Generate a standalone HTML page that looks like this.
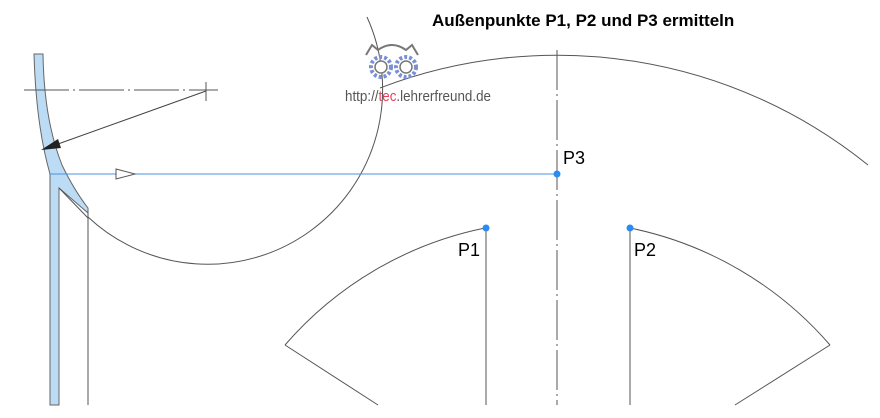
<!DOCTYPE html>
<html><head><meta charset="utf-8"><style>
html,body{margin:0;padding:0;background:#fff;}
svg{display:block;}
</style></head><body>
<svg width="880" height="418" viewBox="0 0 880 418" xmlns="http://www.w3.org/2000/svg">
<rect width="880" height="418" fill="#fff"/>
<text x="432" y="26" font-family="Liberation Sans, sans-serif" font-weight="bold" font-size="17" fill="#000">Außenpunkte P1, P2 und P3 ermitteln</text>

<!-- big circle -->
<path d="M88,217 A175,175 0 0 0 367,17" fill="none" stroke="#555" stroke-width="1"/>
<!-- top arc -->
<path d="M380,88 A495,495 0 0 1 868,165" fill="none" stroke="#555" stroke-width="1"/>
<!-- vertical center line -->
<line x1="557" y1="50" x2="557" y2="405" stroke="#555" stroke-width="1" stroke-dasharray="40,4,2,4"/>
<!-- lower arc -->
<path d="M285,345 A359,359 0 0 1 485,228" fill="none" stroke="#555" stroke-width="1"/>
<path d="M630,228 A359,359 0 0 1 830,345" fill="none" stroke="#555" stroke-width="1"/>
<line x1="285" y1="345" x2="378" y2="405" stroke="#555"/>
<line x1="830" y1="345" x2="735" y2="405" stroke="#555"/>
<line x1="486" y1="228" x2="486" y2="405" stroke="#555"/>
<line x1="630" y1="228" x2="630" y2="405" stroke="#555"/>

<!-- blue profile -->
<path d="M34,54 L43,54 Q44,120 62,165 Q74,190 88,208 L88,213 L59,188 L59,405 L50,405 L50,174 Q36,125 34,54 Z" fill="#bcdcf6" stroke="#666" stroke-width="1"/>
<line x1="59" y1="188" x2="88" y2="218" stroke="#555"/>
<line x1="88" y1="210" x2="88" y2="405" stroke="#555"/>

<!-- center line and dimension -->
<line x1="24" y1="90" x2="218" y2="90" stroke="#555" stroke-dasharray="45,4,2,4"/>
<line x1="206" y1="82" x2="206" y2="101" stroke="#555"/>
<line x1="206" y1="91" x2="58" y2="144" stroke="#444"/>
<polygon points="41,150 58,139 61,148" fill="#222"/>

<!-- blue line -->
<line x1="50" y1="174" x2="557" y2="174" stroke="#4a90e2" stroke-width="1"/>
<polygon points="116,169 135,174 116,179" fill="#fff" stroke="#555"/>

<!-- points -->
<circle cx="557" cy="174" r="3.5" fill="#2a8cf0"/>
<circle cx="486" cy="228" r="3.5" fill="#2a8cf0"/>
<circle cx="630" cy="228" r="3.5" fill="#2a8cf0"/>
<g font-family="Liberation Sans, sans-serif" font-size="18" fill="#000">
<text x="563" y="164">P3</text>
<text x="458" y="256">P1</text>
<text x="634" y="256">P2</text>
</g>

<!-- logo -->
<g>
<path d="M366,55 L372,45 L378,50 Q392,40 406,50 L412,45 L418,55" fill="none" stroke="#777" stroke-width="2"/>
<circle cx="381" cy="67" r="10" fill="none" stroke="#7a8fd6" stroke-width="4" stroke-dasharray="3,2"/>
<circle cx="381" cy="67" r="6" fill="#fff" stroke="#777" stroke-width="1.5"/>
<circle cx="406" cy="67" r="10" fill="none" stroke="#7a8fd6" stroke-width="4" stroke-dasharray="3,2"/>
<circle cx="406" cy="67" r="6" fill="#fff" stroke="#777" stroke-width="1.5"/>
<text x="345" y="101" font-family="Liberation Sans Narrow, Liberation Sans, sans-serif" font-size="15" fill="#555" textLength="146" lengthAdjust="spacingAndGlyphs">http://<tspan fill="#e8405a">tec</tspan>.lehrerfreund.de</text>
</g>
</svg>
</body></html>
